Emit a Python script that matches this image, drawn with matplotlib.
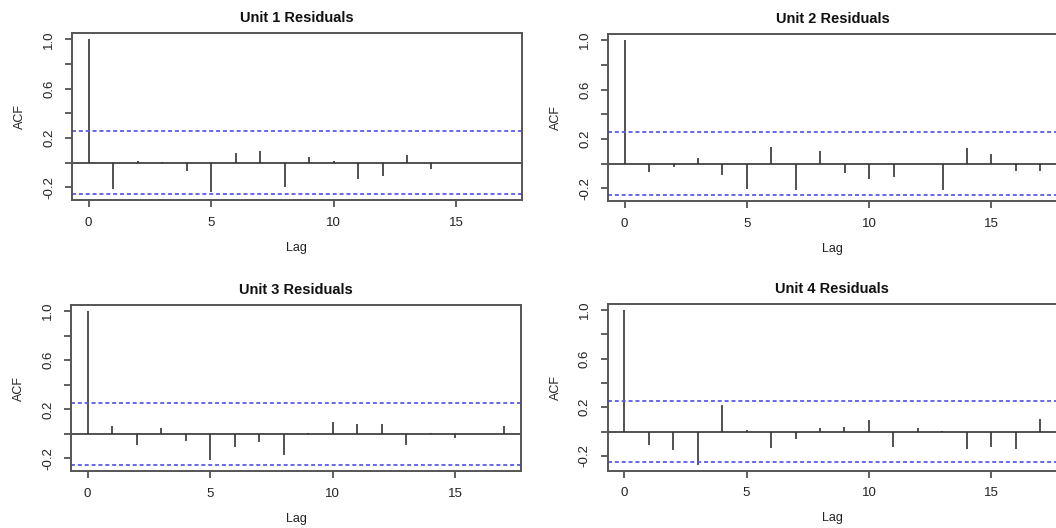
import numpy as np
import matplotlib
matplotlib.use("Agg")
import matplotlib.pyplot as plt

plt.rcParams['font.family'] = ['Liberation Sans', 'DejaVu Sans']

lags = list(range(18))
titles = ["Unit 1 Residuals", "Unit 2 Residuals", "Unit 3 Residuals", "Unit 4 Residuals"]
acf_unit1 = [1.0, -0.21, 0.01, 0.005, -0.068, -0.24, 0.082, 0.095, -0.20, 0.049,
             0.016, -0.13, -0.11, 0.063, -0.052, -0.003, -0.003, -0.003]
acf_unit2 = [1.0, -0.068, -0.027, 0.043, -0.092, -0.207, 0.133, -0.212, 0.10, -0.073,
             -0.122, -0.111, -0.005, -0.217, 0.128, 0.082, -0.06, -0.063]
acf_unit3 = [1.0, 0.06, -0.087, 0.049, -0.06, -0.217, -0.111, -0.068, -0.174, 0.004,
             0.098, 0.084, 0.082, -0.087, 0.01, -0.033, -0.005, 0.065]
acf_unit4 = [1.0, -0.113, -0.154, -0.272, 0.22, 0.01, -0.137, -0.063, 0.033, 0.038,
             0.091, -0.129, 0.03, 0.005, -0.14, -0.124, -0.148, 0.104]
conf_limit = 0.255
ytick_vals = [-0.2, 0.0, 0.2, 0.4, 0.6, 0.8, 1.0]
ytick_labels = ['-0.2', '', '0.2', '', '0.6', '', '1.0']
xtick_vals = [0, 5, 10, 15]

W, H = 1056, 528
fig = plt.figure(figsize=(W / 100, H / 100), dpi=100)

# frame boxes in pixels: left, top, right, bottom
boxes = [(72, 33.3, 521.6, 200.3), (608, 34, 1057, 201.3),
         (71, 305, 521, 471.3), (607.5, 304, 1057, 470.7)]
series = [acf_unit1, acf_unit2, acf_unit3, acf_unit4]

ink = '#333333'
for box, acf, title in zip(boxes, series, titles):
    l, t, r, b = box
    ax = fig.add_axes([l / W, 1 - b / H, (r - l) / W, (b - t) / H])
    ax.vlines(lags, 0, acf, color=ink, lw=1.2)
    ax.axhline(0, color=ink, lw=1.2)
    for c in (conf_limit, -conf_limit):
        ax.axhline(c, color='#5a5af0', lw=1.3, ls=(0, (2.2, 1.6)))
    lo = min(-conf_limit, min(acf))
    rng = 1 - lo
    ax.set_ylim(lo - 0.04 * rng, 1 + 0.04 * rng)
    ax.set_xlim(-0.68, 17.68)
    ax.set_yticks(ytick_vals)
    ax.set_yticklabels(ytick_labels, rotation=90, va='center')
    ax.set_xticks(xtick_vals)
    ax.set_xticklabels([str(v) for v in xtick_vals])
    ax.tick_params(length=5, width=1.2, color='#444444', labelsize=9.5, labelcolor='#222222', pad=7)
    for s in ax.spines.values():
        s.set_color('#555555')
        s.set_linewidth(1.4)
    ax.set_title(title, fontsize=10.5, fontweight='bold', color='#111111', pad=8)
    ax.set_xlabel('Lag', fontsize=9, color='#222222')
    ax.set_ylabel('ACF', fontsize=9, color='#222222')
    ax.xaxis.set_label_coords(0.5, -47.7 / (b - t))
    ax.xaxis.label.set_va('center')
    ax.yaxis.set_label_coords(-52 / (r - l), 0.5)
    ax.yaxis.label.set_va('center')

fig.savefig('out.png', dpi=100)
